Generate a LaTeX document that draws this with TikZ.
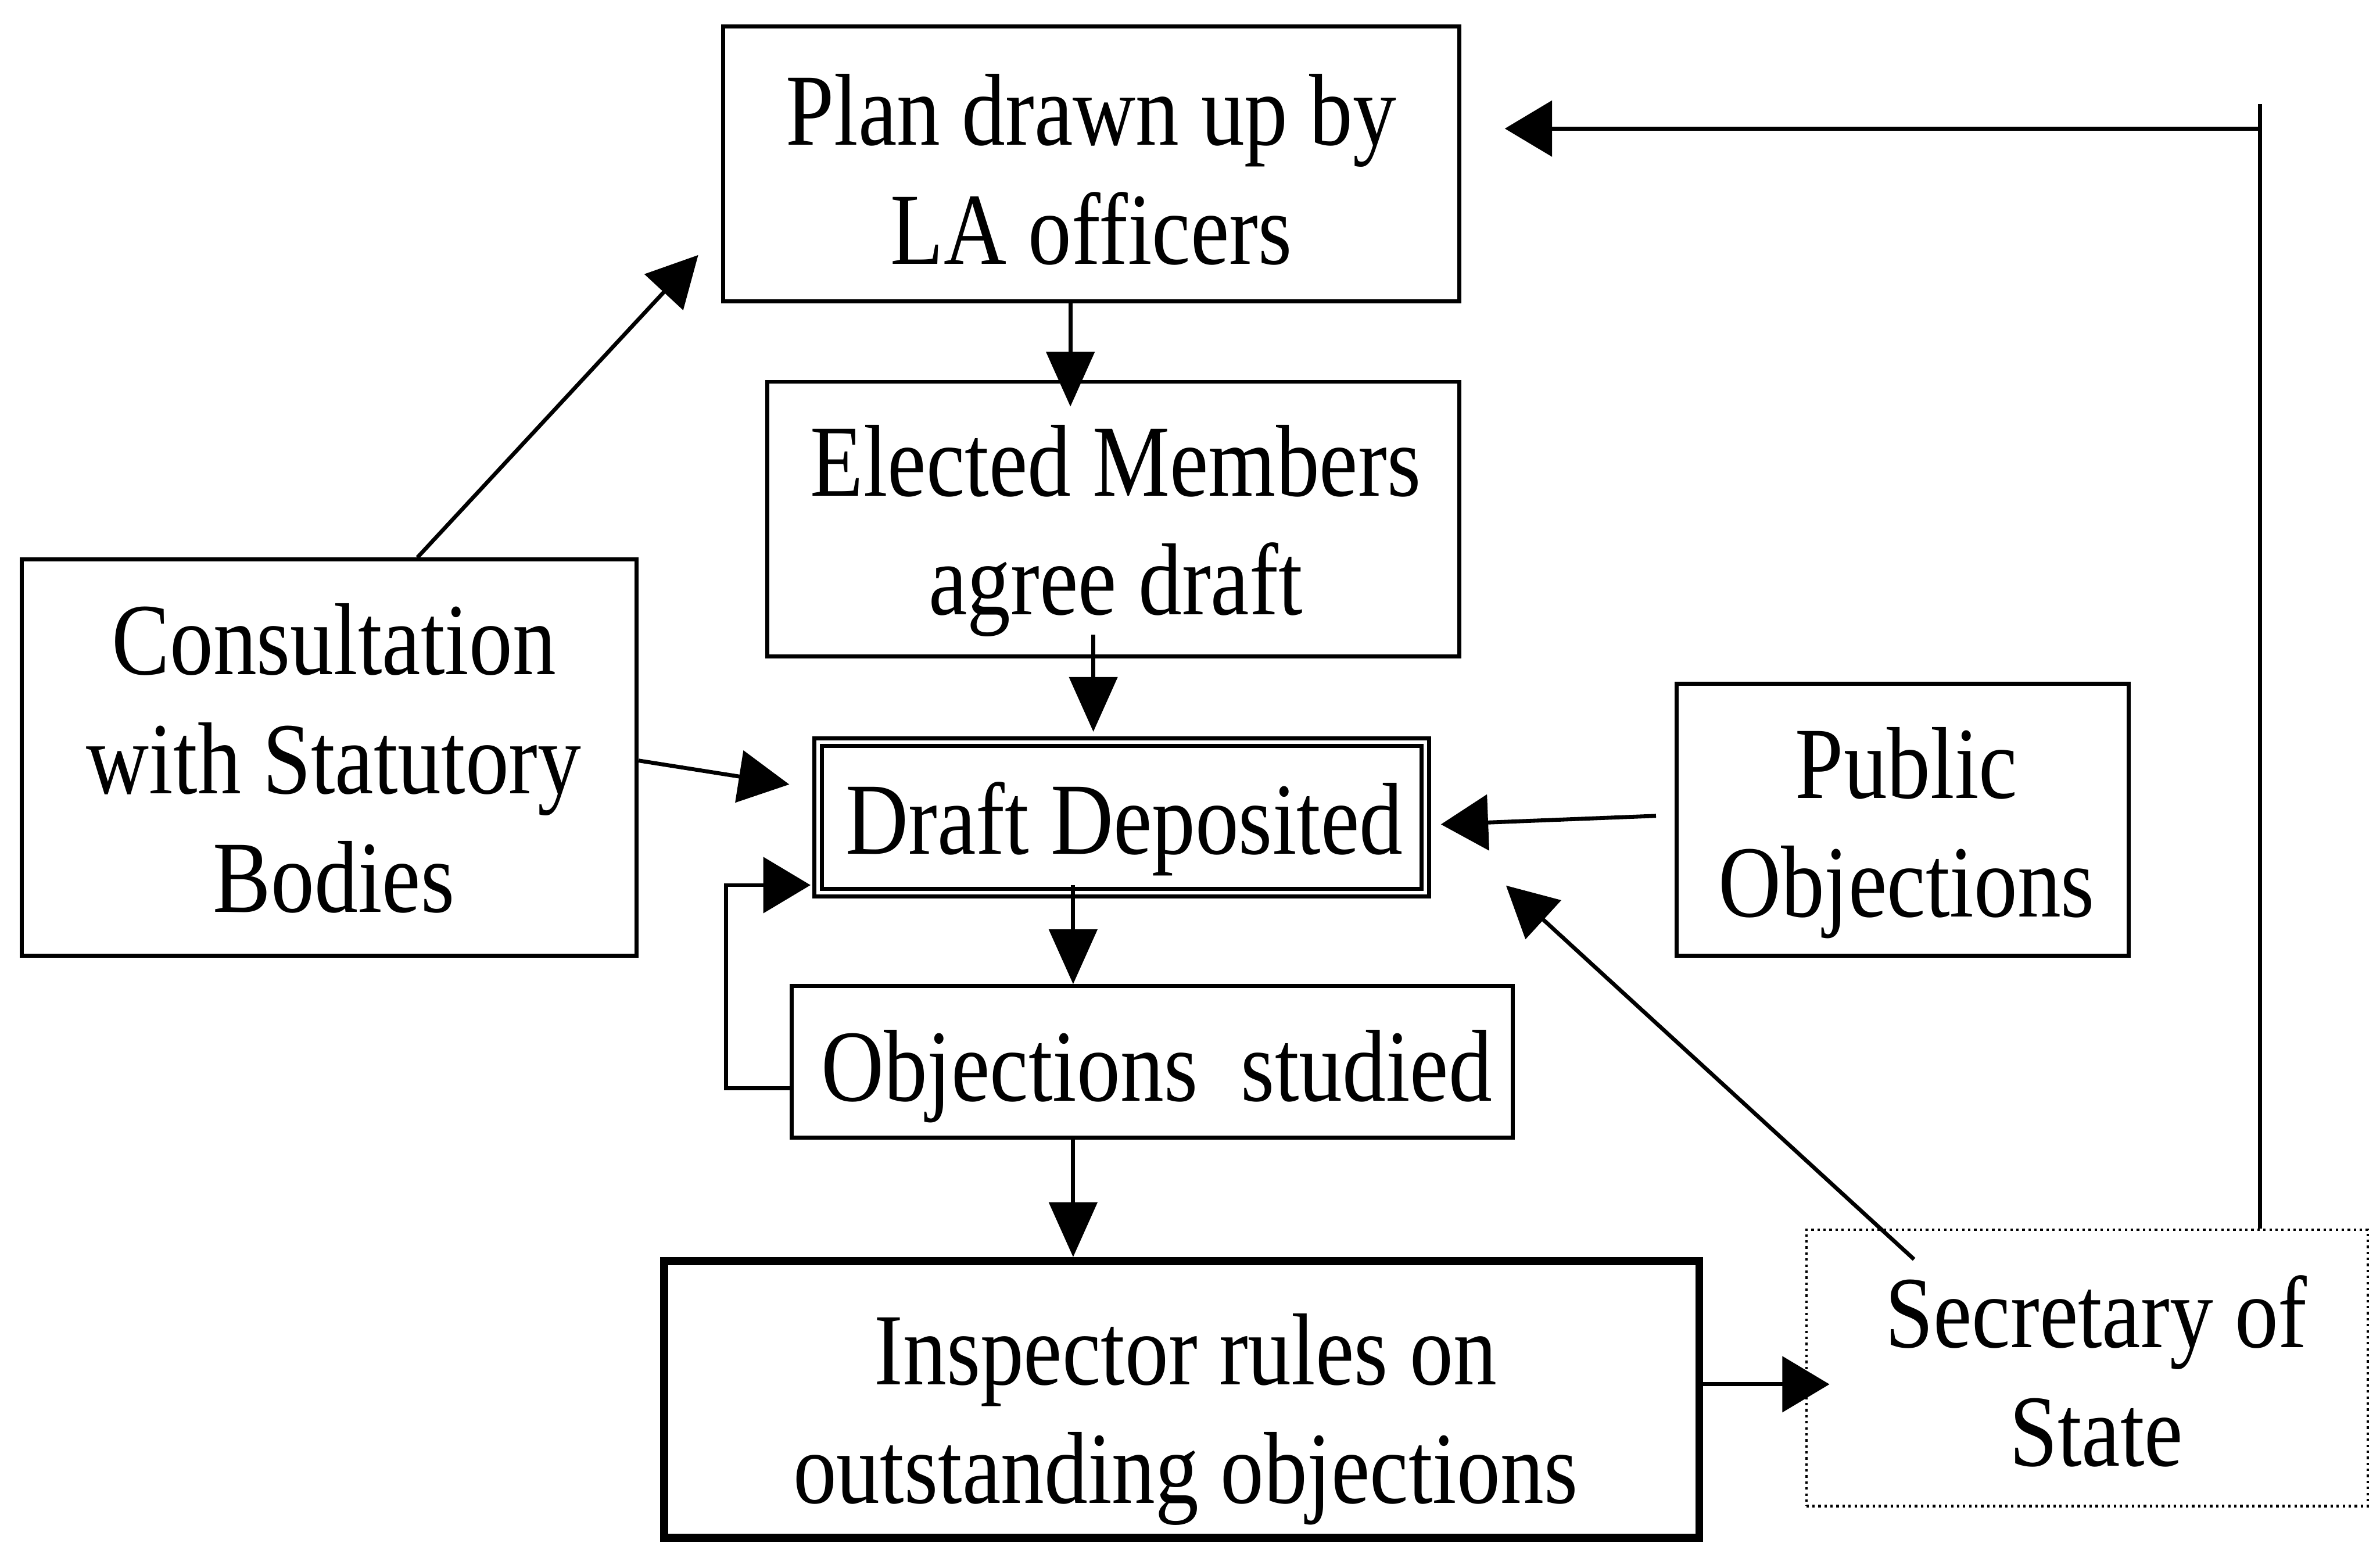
\documentclass[tikz,border=0pt]{standalone}
\usepackage{fontspec}
\setmainfont[FakeStretch=0.85]{Liberation Serif}
\usetikzlibrary{arrows.meta}
\begin{document}
\begin{tikzpicture}[x=0.038954cm, y=-0.038954cm,
  box/.style={draw, line width=2.9pt, inner sep=0pt},
  dblbox/.style={draw, line width=3pt, double, double distance=2.5pt, inner sep=0pt},
  thickbox/.style={draw, line width=5.8pt, inner sep=0pt},
  dotbox/.style={draw, line width=1.8pt, dash pattern=on 1.8pt off 2.6pt, inner sep=0pt},
  txt/.style={align=center, inner sep=0pt, font=\fontsize{74.65pt}{86.9pt}\selectfont},
  conn/.style={line width=2.9pt},
  arrv/.style={conn, -{Triangle[length=40pt,width=35pt]}},
  arrh/.style={conn, -{Triangle[length=34.5pt,width=40.5pt]}},
  arrd/.style={conn, -{Triangle[length=37pt,width=38pt]}}]
\useasboundingbox (0,0) rectangle (1568,1016);

% boxes
\node[box, minimum width=18.893cm, minimum height=7.051cm] (plan) at (719,108) {};
\node[box, minimum width=17.763cm, minimum height=7.051cm] (elected) at (733.5,342) {};
\node[dblbox, minimum width=15.582cm, minimum height=3.856cm] (draft) at (739,538.5) {};
\node[box, minimum width=18.503cm, minimum height=3.895cm] (obj) at (759,699.5) {};
\node[thickbox, minimum width=26.567cm, minimum height=7.105cm] (insp) at (778.5,921.8) {};
\node[dotbox, minimum width=14.413cm, minimum height=7.09cm] (sec) at (1375,901) {};
\node[box, minimum width=15.776cm, minimum height=10.167cm] (cons) at (217,499) {};
\node[box, minimum width=11.608cm, minimum height=6.973cm] (pub) at (1253.5,540) {};

% texts (base anchor = baseline of the last line)
\node[txt, anchor=base] (tplan) at (719,174) {Plan drawn up by\\LA officers};
\node[txt, anchor=base] (telected) at (735,405) {Elected Members\\agree draft};
\node[txt, anchor=base] (tdraft) at (740.7,562.6) {Draft Deposited};
\node[txt, anchor=base] (tobj) at (762,725.2) {Objections\ \ studied};
\node[txt, anchor=base] (tinsp) at (781,990.3) {Inspector rules on\\outstanding objections};
\node[txt, anchor=base] (tsec) at (1381,965.8) {Secretary of\\State};
\node[txt, anchor=base] (tcons) at (220,601) {Consultation\\with Statutory\\Bodies};
\node[txt, anchor=base] (tpub) at (1256,604) {Public\\Objections};

% connector points
\coordinate (a1) at (705.2,267.8);
\coordinate (b0) at (720.3,418);
\coordinate (b1) at (720.3,482);
\coordinate (c0) at (707,583);
\coordinate (d1) at (478.3,716.7);
\coordinate (d2) at (478.3,583);
\coordinate (d3) at (534,583);
\coordinate (e0) at (275,368);
\coordinate (e1) at (460,168);
\coordinate (f0) at (421.5,501);
\coordinate (f1) at (520,516.7);
\coordinate (g0) at (1091,537.4);
\coordinate (g1) at (949.3,543);
\coordinate (h0) at (1261,829.5);
\coordinate (h1) at (992.2,583.3);
\coordinate (i1) at (1205.3,911.8);
\coordinate (j0) at (1488.9,68.5);
\coordinate (j1) at (1488.9,84.7);
\coordinate (j2) at (991.4,84.7);

% connectors
\draw[arrv] (plan.south -| a1) -- (a1);
\draw[arrv] (b0) -- (b1);
\draw[arrv] (c0) -- (obj.north -| c0);
\draw[arrv] (obj.south -| c0) -- (insp.north -| c0);
\draw[arrh] (obj.west |- d1) -- (d1) -- (d2) -- (d3);
\draw[arrd] (cons.north -| e0) -- (e1);
\draw[arrd] (cons.east |- f0) -- (f1);
\draw[arrh] (g0) -- (g1);
\draw[arrd] (h0) -- (h1);
\draw[arrh] (insp.east |- i1) -- (i1);
\draw[conn] (sec.north -| j0) -- (j0);
\draw[arrh] (j1) -- (j2);
\end{tikzpicture}
\end{document}
